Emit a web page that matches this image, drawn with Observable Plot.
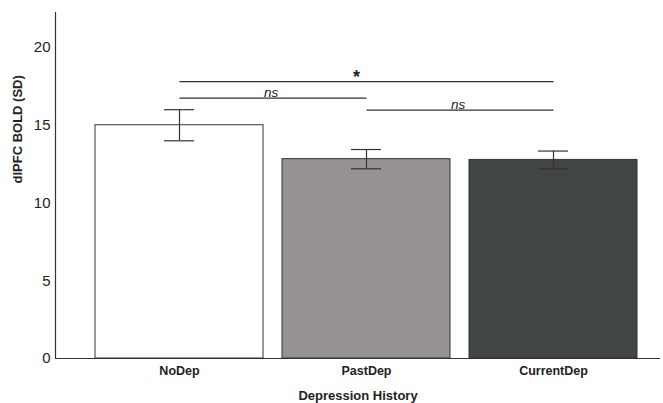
<!DOCTYPE html>
<html>
<head>
<meta charset="utf-8">
<script src="https://cdn.jsdelivr.net/npm/d3@7"></script>
<script src="https://cdn.jsdelivr.net/npm/@observablehq/plot@0.6"></script>
<style>
  html, body { margin: 0; padding: 0; background: #fff; }
</style>
</head>
<body>
<div id="chart"></div>
<script>
const groups = ["NoDep", "PastDep", "CurrentDep"];
const means = [15.0, 12.82, 12.77];
const errs = [1.0, 0.62, 0.57];
const fills = ["#ffffff", "#979392", "#424546"];
const yTicks = [0, 5, 10, 15, 20];
const bracketFrom = ["NoDep", "NoDep", "PastDep"];
const bracketTo = ["CurrentDep", "PastDep", "CurrentDep"];
const bracketY = [17.8, 16.74, 15.97];
const bracketLabel = ["*", "ns", "ns"];

const data = groups.map((g, i) => ({group: g, mean: means[i], lo: means[i] - errs[i], hi: means[i] + errs[i], fill: fills[i]}));
const brackets = bracketLabel.map((l, i) => ({from: bracketFrom[i], to: bracketTo[i], y: bracketY[i], label: l}));

const xRange = [85.5, 646.5];
const step = (xRange[1] - xRange[0]) / 3;
const ink = "#333";

const labelMarks = brackets.map(b => {
  const span = groups.indexOf(b.to) - groups.indexOf(b.from);
  const star = b.label === "*";
  return Plot.text([b], {
    x: "from", y: "y", text: "label",
    dx: span * step / 2 + (star ? -10 : -2),
    dy: star ? 1 : -1,
    lineAnchor: "bottom",
    fontSize: star ? 18 : 13.5,
    fontWeight: star ? "bold" : "normal",
    fontStyle: star ? "normal" : "italic",
    fill: "#222"
  });
});

const chart = Plot.plot({
  width: 663,
  height: 403,
  marginLeft: 55,
  marginRight: 3,
  marginTop: 12,
  marginBottom: 45,
  style: {fontFamily: "'Liberation Sans', Arial, sans-serif", color: "#222", background: "#fff"},
  x: {domain: groups, range: xRange, paddingInner: 0.1, paddingOuter: 0.05},
  y: {domain: [0, 22.25]},
  marks: [
    Plot.barY(data, {x: "group", y: "mean", fill: "fill", stroke: ink, strokeWidth: 1}),
    Plot.ruleX(data, {x: "group", y1: "lo", y2: "hi", stroke: ink, strokeWidth: 1.2}),
    Plot.tickY(data, {x: "group", y: "lo", stroke: ink, strokeWidth: 1.2, insetLeft: 69, insetRight: 69}),
    Plot.tickY(data, {x: "group", y: "hi", stroke: ink, strokeWidth: 1.2, insetLeft: 69, insetRight: 69}),
    Plot.link(brackets, {x1: "from", x2: "to", y1: "y", y2: "y", stroke: ink, strokeWidth: 1.2}),
    ...labelMarks,
    Plot.frame({anchor: "left", stroke: ink, strokeWidth: 1.2}),
    Plot.ruleY([0], {stroke: ink, strokeWidth: 1.2}),
    Plot.axisY({ticks: yTicks, tickSize: 0, tickPadding: 5, fontSize: 15, label: null}),
    Plot.axisX({tickSize: 0, tickPadding: 8, fontSize: 12.5, fontWeight: "bold", label: null}),
    Plot.text(["Depression History"], {frameAnchor: "bottom", lineAnchor: "middle", dy: 37, fontSize: 13, fontWeight: "bold", fill: "#222"}),
    Plot.text(["dlPFC BOLD (SD)"], {frameAnchor: "left", rotate: -90, dx: -38, dy: -2, fontSize: 13, fontWeight: "bold", fill: "#222"})
  ]
});
document.getElementById("chart").appendChild(chart);
</script>
</body>
</html>
